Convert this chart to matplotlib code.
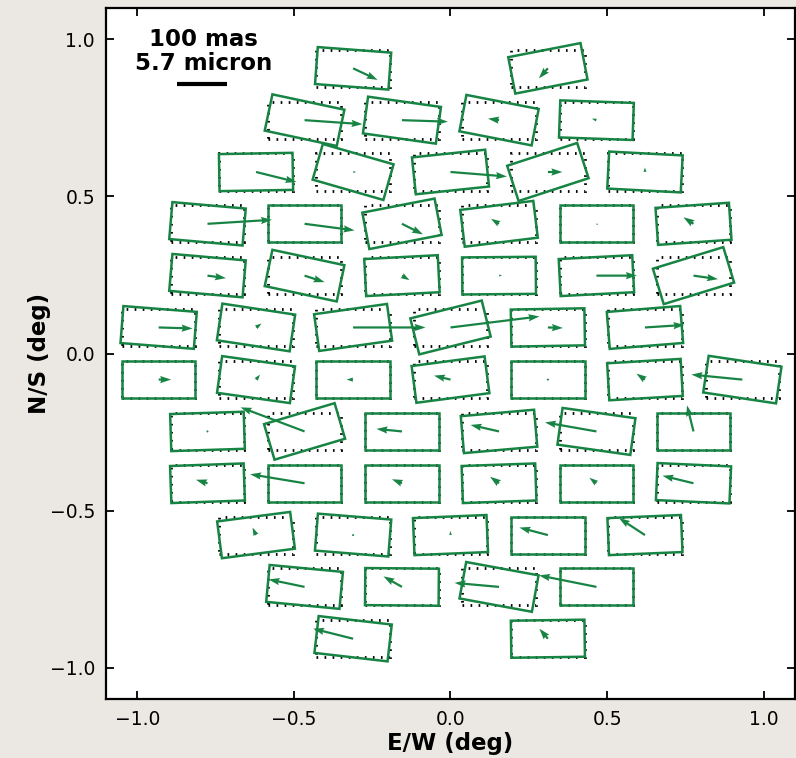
import matplotlib
matplotlib.use("Agg")
import matplotlib.pyplot as plt
from matplotlib.patches import Rectangle
import numpy as np

# nominal CCD centres (deg), row by row from top to bottom
row_y = [0.908, 0.743, 0.578, 0.413, 0.248, 0.083,
         -0.083, -0.248, -0.413, -0.578, -0.743, -0.908]
row_x = [
    [-0.311, 0.311],
    [-0.466, -0.155, 0.155, 0.466],
    [-0.621, -0.311, 0.0, 0.311, 0.621],
    [-0.776, -0.466, -0.155, 0.155, 0.466, 0.776],
    [-0.776, -0.466, -0.155, 0.155, 0.466, 0.776],
    [-0.932, -0.621, -0.311, 0.0, 0.311, 0.621],
    [-0.932, -0.621, -0.311, 0.0, 0.311, 0.621, 0.932],
    [-0.776, -0.466, -0.155, 0.155, 0.466, 0.776],
    [-0.776, -0.466, -0.155, 0.155, 0.466, 0.776],
    [-0.621, -0.311, 0.0, 0.311, 0.621],
    [-0.466, -0.155, 0.155, 0.466],
    [-0.311, 0.311],
]

# fitted rotation of each CCD (deg, exaggerated for display)
rot_deg = [
    [-4.3, 11.0],
    [-12.0, -8.0, -11.0, -2.0],
    [1.0, -16.0, 6.0, 18.0, -3.0],
    [-5.0, 0.0, 11.0, 7.0, 0.0, 4.0],
    [-5.0, -12.0, 3.0, 0.5, 3.0, 17.0],
    [-4.5, -8.6, 8.0, 14.0, 1.0, 4.6],
    [0.0, -8.0, 0.0, 7.5, 0.0, 3.4, -8.5],
    [1.8, 16.5, 0.0, 5.0, -8.0, 0.0],
    [2.0, 0.0, 0.0, 2.0, 0.0, -2.6],
    [7.4, -4.6, 2.4, 0.0, 2.4],
    [-5.4, -0.5, -10.4, 0.0],
    [-6.6, 0.8],
]

# fitted CCD offsets (mas), E/W and N/S
dx_mas = [
    [49, -18],
    [116, 92, -22, -9],
    [81, 6, 113, 29, 0],
    [129, 100, 42, -16, 4, -20],
    [37, 40, 15, 6, 81, 49],
    [68, 11, 145, 178, 30, 79],
    [25, 8, -13, -33, 2, -17, -102],
    [2, -128, -51, -57, -103, -13],
    [-23, -109, -20, -18, -14, -62],
    [-7, 1, 0, -57, -52],
    [-72, -37, -89, -115],
    [-80, -17],
]
dy_mas = [
    [-23, -20],
    [-8, -3, 3, 3],
    [-20, 0, -9, 0, 9],
    [8, -13, -21, 10, -2, 13],
    [-5, -13, -9, 1, 0, -7],
    [-2, 8, 0, 22, -1, 5],
    [0, 10, 0, 8, 0, 12, 10],
    [0, 48, 5, 13, 18, 52],
    [7, 18, 8, 13, 11, 15],
    [15, 0, 8, 15, 34],
    [15, 21, 8, 23],
    [20, 20],
]

CCD_W, CCD_H = 0.235, 0.118     # deg
MAS_TO_DEG = 0.1595 / 100.0     # 100 mas drawn as this many deg
GREEN = "#178444"

x = np.array([v for r in row_x for v in r])
y = np.array([yy for r, yy in zip(row_x, row_y) for _ in r])
rot = np.array([v for r in rot_deg for v in r])
u = np.array([v for r in dx_mas for v in r]) * MAS_TO_DEG
v = np.array([w for r in dy_mas for w in r]) * MAS_TO_DEG

fig = plt.figure(figsize=(7.96, 7.58), dpi=100, facecolor="#ebe8e3")
ax = fig.add_axes([0.1332, 0.0778, 0.8655, 0.9116])

for xc, yc, th in zip(x, y, rot):
    # nominal position: dotted black
    ax.add_patch(Rectangle((xc - CCD_W / 2, yc - CCD_H / 2), CCD_W, CCD_H,
                           fill=False, ec="black", lw=2.0,
                           ls=(0, (0.6, 2.3)), zorder=1))
    # fitted position: green, rotated about centre
    ax.add_patch(Rectangle((xc - CCD_W / 2, yc - CCD_H / 2), CCD_W, CCD_H,
                           angle=th, rotation_point="center",
                           fill=False, ec=GREEN, lw=1.8, zorder=2))

ax.quiver(x, y, u, v, angles="xy", scale_units="xy", scale=1, pivot="tail",
          color=GREEN, width=0.0032, headwidth=3.3, headlength=5,
          headaxislength=4.5, zorder=3)

# scale bar
bx0 = -0.873
ax.plot([bx0, bx0 + 100 * MAS_TO_DEG], [0.857, 0.857], color="black",
        lw=3, solid_capstyle="butt")
ax.text(-0.788, 0.962, "100 mas\n5.7 micron", ha="center", va="center",
        fontsize=16.5, fontweight="bold", linespacing=1.05)

ax.set_xlim(-1.1, 1.1)
ax.set_ylim(-1.1, 1.1)
ax.set_xticks([-1.0, -0.5, 0.0, 0.5, 1.0])
ax.set_yticks([-1.0, -0.5, 0.0, 0.5, 1.0])
ax.tick_params(direction="in", top=True, right=True, length=6, width=1.3,
               labelsize=13.5, pad=8)
for s in ax.spines.values():
    s.set_linewidth(1.6)
ax.set_xlabel("E/W (deg)", fontsize=16.5, fontweight="bold", labelpad=2)
ax.set_ylabel("N/S (deg)", fontsize=16.5, fontweight="bold", labelpad=-1)

plt.savefig("out.png", dpi=100, facecolor=fig.get_facecolor())
